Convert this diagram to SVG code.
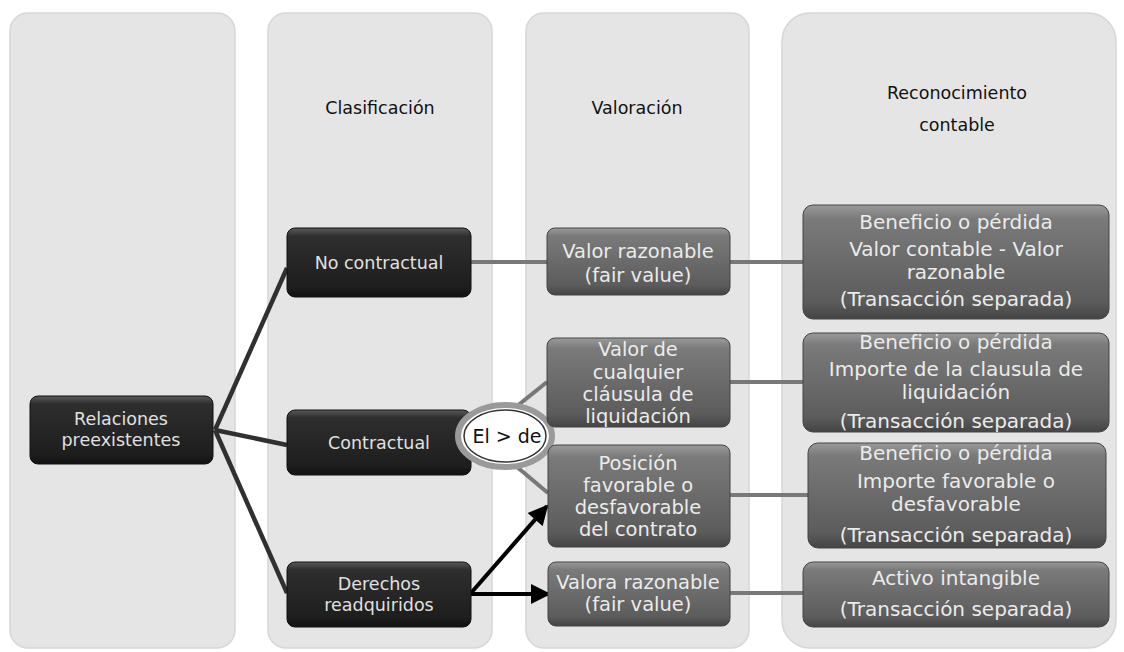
<svg xmlns="http://www.w3.org/2000/svg" width="1124" height="652" viewBox="0 0 1124 652">
<style>
.panel{fill:#e5e5e5;stroke:#d6d6d6;stroke-width:1.5}
.hdr{font-family:"DejaVu Sans","Liberation Sans",sans-serif;font-size:17.5px;fill:#111;text-anchor:middle}
.dark rect{fill:url(#gDark);stroke:#111;stroke-width:1}
.gray rect{fill:url(#gGray);stroke:#444;stroke-width:1}
.dark text{font-family:"DejaVu Sans","Liberation Sans",sans-serif;font-size:17.5px;fill:#e0e0e0;text-anchor:middle}
.gray text{font-family:"DejaVu Sans","Liberation Sans",sans-serif;font-size:19.5px;fill:#ebebeb;text-anchor:middle}
.rec text{font-size:20px}
.cd{stroke:#303030;stroke-width:4.5;fill:none}
.cg{stroke:#787878;stroke-width:4;fill:none}
.ca{stroke:#000;stroke-width:4;fill:none}
</style>
<defs>
<linearGradient id="gDark" x1="0" y1="0" x2="0" y2="1">
<stop offset="0" stop-color="#5a5a5a"/>
<stop offset="0.12" stop-color="#2e2e2e"/>
<stop offset="0.85" stop-color="#1e1e1e"/>
<stop offset="1" stop-color="#111"/>
</linearGradient>
<linearGradient id="gGray" x1="0" y1="0" x2="0" y2="1">
<stop offset="0" stop-color="#9a9a9a"/>
<stop offset="0.12" stop-color="#7a7a7a"/>
<stop offset="0.85" stop-color="#5c5c5c"/>
<stop offset="1" stop-color="#444"/>
</linearGradient>
<marker id="ah" viewBox="0 0 10 10" refX="9" refY="5" markerWidth="22" markerHeight="20" markerUnits="userSpaceOnUse" orient="auto">
<path d="M0,0 L10,5 L0,10 Z" fill="#000"/>
</marker>
</defs>

<g id="panels">
<rect class="panel" x="10" y="13" width="225" height="635" rx="18"/>
<rect class="panel" x="268" y="13" width="224" height="635" rx="18"/>
<rect class="panel" x="526" y="13" width="223" height="635" rx="18"/>
<rect class="panel" x="782" y="13" width="334" height="635" rx="28"/>
<text class="hdr" x="380" y="114">Clasificación</text>
<text class="hdr" x="637" y="114">Valoración</text>
<text class="hdr" x="957" y="99">Reconocimiento</text>
<text class="hdr" x="957" y="131">contable</text>
</g>

<g id="connectors">
<path class="cd" d="M215,430 L287,268"/>
<path class="cd" d="M215,430 L287,445"/>
<path class="cd" d="M215,430 L287,593"/>
<path class="cg" d="M471,262 H547"/>
<path class="cg" d="M730,262 H803"/>
<path class="cg" d="M480,436 L547,382"/>
<path class="cg" d="M480,436 L548,493"/>
<path class="cg" d="M730,382 H803"/>
<path class="cg" d="M730,495 H808"/>
<path class="cg" d="M730,593 H803"/>
<path class="ca" d="M471,593 L547,506" marker-end="url(#ah)"/>
<path class="ca" d="M471,594 L549,594" marker-end="url(#ah)"/>
</g>

<g id="n-relaciones" class="dark">
<rect x="30" y="396" width="183" height="68" rx="8"/>
<text x="121" y="425">Relaciones</text>
<text x="121" y="446">preexistentes</text>
</g>
<g id="n-nocontractual" class="dark">
<rect x="287" y="228" width="184" height="69" rx="8"/>
<text x="379" y="269">No contractual</text>
</g>
<g id="n-contractual" class="dark">
<rect x="287" y="410" width="184" height="65" rx="8"/>
<text x="379" y="449">Contractual</text>
</g>
<g id="n-derechos" class="dark">
<rect x="287" y="562" width="184" height="65" rx="8"/>
<text x="379" y="590">Derechos</text>
<text x="379" y="611">readquiridos</text>
</g>

<g id="n-elde">
<ellipse cx="505" cy="436" rx="47" ry="31" fill="#fff" stroke="#9a9a9a" stroke-width="6"/>
<ellipse cx="505" cy="436" rx="41" ry="26" fill="#fff" stroke="#333" stroke-width="1.5"/>
<text x="507" y="443" font-family="'DejaVu Sans','Liberation Sans',sans-serif" font-size="19" fill="#111" text-anchor="middle">El &gt; de</text>
</g>

<g id="n-valorrazonable" class="gray">
<rect x="547" y="228" width="183" height="67" rx="8"/>
<text x="638" y="258">Valor razonable</text>
<text x="638" y="282">(fair value)</text>
</g>
<g id="n-valorclausula" class="gray">
<rect x="547" y="338" width="183" height="89" rx="8"/>
<text x="638" y="356">Valor de</text>
<text x="638" y="379">cualquier</text>
<text x="638" y="401">cláusula de</text>
<text x="638" y="423">liquidación</text>
</g>
<g id="n-posicion" class="gray">
<rect x="548" y="445" width="182" height="102" rx="8"/>
<text x="638" y="470">Posición</text>
<text x="638" y="492">favorable o</text>
<text x="638" y="514">desfavorable</text>
<text x="638" y="536">del contrato</text>
</g>
<g id="n-valora" class="gray">
<rect x="548" y="562" width="182" height="64" rx="8"/>
<text x="638" y="589" font-size="17">Valora razonable</text>
<text x="638" y="611" font-size="17">(fair value)</text>
</g>

<g id="n-rec1" class="gray rec">
<rect x="803" y="205" width="306" height="114" rx="10"/>
<text x="956" y="229">Beneficio o pérdida</text>
<text x="956" y="256">Valor contable - Valor</text>
<text x="956" y="279">razonable</text>
<text x="956" y="306">(Transacción separada)</text>
</g>
<g id="n-rec2" class="gray rec">
<rect x="803" y="333" width="306" height="99" rx="10"/>
<text x="956" y="349">Beneficio o pérdida</text>
<text x="956" y="376">Importe de la clausula de</text>
<text x="956" y="399">liquidación</text>
<text x="956" y="428">(Transacción separada)</text>
</g>
<g id="n-rec3" class="gray rec">
<rect x="808" y="443" width="298" height="105" rx="10"/>
<text x="956" y="460">Beneficio o pérdida</text>
<text x="956" y="488">Importe favorable o</text>
<text x="956" y="511">desfavorable</text>
<text x="956" y="542">(Transacción separada)</text>
</g>
<g id="n-rec4" class="gray rec">
<rect x="803" y="562" width="306" height="65" rx="10"/>
<text x="956" y="585">Activo intangible</text>
<text x="956" y="616">(Transacción separada)</text>
</g>
</svg>
